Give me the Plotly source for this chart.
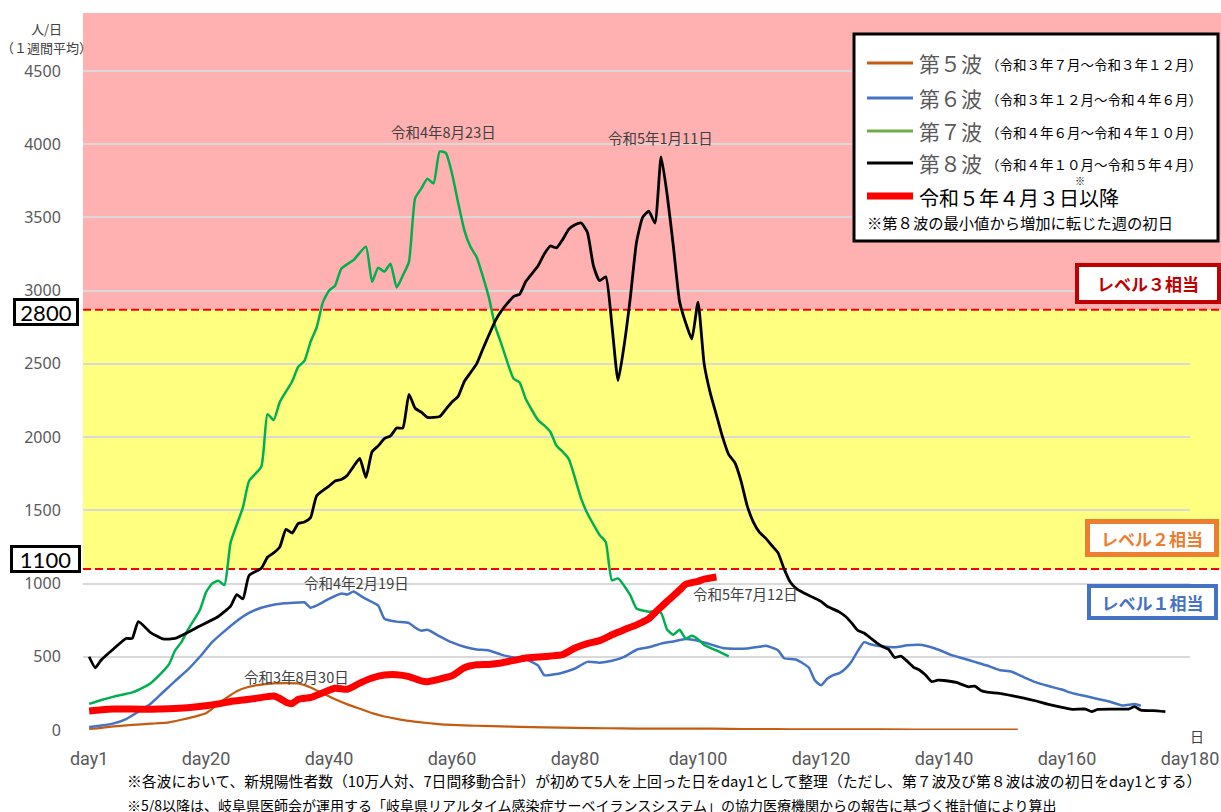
import plotly.graph_objects as go

# ---------------- data ----------------
days_w5 = [1,3,5,8,11,14,16,18,20,21,23,25,27,29,31,33,35,37,39,41,43,45,47,49,51,53,55,57,59,61,63,65,68,71,75,80,85,90,95,100,105,110,115,120,130,140,152]
vals_w5 = [8,15,25,35,43,52,70,90,115,145,210,265,295,310,318,320,318,290,250,210,175,145,115,92,76,62,52,44,37,33,30,28,25,22,18,14,12,10,9,10,8,6,5,4,4,3,3]

days_w6 = [1,3,5,7,9,11,13,15,17,19,21,23,25,27,29,31,33,35,36,37,38,40,42,43,44,45,46,48,49,51,53,54,55,56,58,60,62,64,66,68,70,72,74,75,77,79,80,82,84,86,88,90,92,94,96,98,100,102,104,106,108,110,111,113,114,116,118,119,120,121,122,123,124,125,126,127,128,130,132,134,136,137,139,141,143,145,147,149,151,153,155,157,159,161,163,165,167,169,171,172]
vals_w6 = [20,30,45,75,125,180,258,335,410,500,600,675,745,800,835,855,865,870,872,835,850,895,932,925,945,920,895,850,760,740,730,700,678,684,640,598,568,550,543,515,495,483,440,375,382,405,420,465,460,473,500,548,565,590,605,622,610,585,560,555,557,568,575,545,490,480,427,340,305,350,375,388,420,470,540,600,585,570,565,578,582,575,550,515,490,465,440,410,398,360,325,300,278,250,232,212,193,167,177,166]

days_w7 = [1,3,5,8,10,11,13,14,15,16,17,19,20,21,22,23,24,26,27,29,30,31,32,34,35,36,37,38,39,40,41,42,44,46,47,48,49,50,51,52,53,54,55,56,57,58,59,60,61,62,63,64,65,66,67,68,70,71,72,74,75,76,77,78,79,81,82,84,85,86,87,89,90,92,93,94,95,96,97,98,99,100,101,103,105]
vals_w7 = [178,205,228,257,295,320,400,450,545,600,680,820,940,1000,1020,990,1280,1520,1700,1800,2157,2116,2240,2380,2480,2520,2650,2750,2920,3000,3035,3150,3210,3300,3060,3157,3130,3184,3022,3103,3197,3630,3697,3765,3732,3950,3940,3800,3600,3414,3300,3230,3100,2954,2760,2640,2400,2373,2260,2116,2080,2035,1941,1900,1850,1580,1480,1332,1284,1022,1035,920,830,808,811,800,684,651,684,625,643,620,581,543,503]

days_w8 = [1,2,3,5,7,8,9,11,13,15,17,19,22,24,25,26,27,29,30,31,32,33,34,35,36,37,38,40,41,42,43,44,45,46,47,48,49,50,51,52,53,54,55,56,58,59,60,61,62,63,64,65,66,67,68,70,71,72,74,75,76,77,78,79,80,81,82,83,84,85,86,87,88,89,90,91,92,93,94,95,96,97,98,99,100,101,102,103,104,105,106,107,108,109,110,111,112,113,114,115,116,117,119,120,121,123,124,125,126,127,128,129,130,131,132,133,134,135,136,137,138,139,140,142,144,145,146,147,149,151,153,155,157,160,161,163,164,165,168,170,171,172,174,176]
vals_w8 = [500,425,480,555,625,625,740,665,622,625,665,710,775,846,925,895,1055,1105,1180,1210,1250,1370,1345,1410,1420,1450,1600,1665,1700,1711,1740,1800,1854,1724,1900,1940,1990,2008,2062,2062,2292,2197,2170,2135,2140,2190,2240,2278,2380,2440,2500,2600,2697,2790,2860,2960,2976,3062,3170,3251,3305,3292,3350,3420,3450,3462,3400,3170,3068,3095,2765,2386,2630,2954,3330,3500,3543,3462,3914,3650,3300,2927,2780,2670,2922,2500,2300,2150,2000,1880,1825,1700,1530,1420,1350,1310,1260,1211,1100,1010,965,940,900,878,845,805,775,730,680,662,630,597,570,550,495,505,470,430,410,375,330,341,338,325,295,300,270,258,250,235,218,198,175,148,141,143,125,141,143,143,159,136,132,125]

days_r = [1,3,5,8,11,14,17,20,22,24,26,28,30,31,32,33,34,35,37,39,41,43,45,47,49,51,53,55,56,58,60,62,64,66,68,70,72,74,76,78,80,82,84,86,88,90,92,93,95,97,98,100,101,103]
vals_r = [130,138,143,143,142,145,152,165,178,195,205,215,228,232,215,190,180,210,222,255,285,278,320,355,375,378,365,335,330,348,370,425,445,448,458,475,492,498,505,515,560,590,610,650,685,718,760,800,880,955,995,1015,1030,1045]

x_tick_vals = [1, 20, 40, 60, 80, 100, 120, 140, 160, 180]
x_tick_text = ["day1", "day20", "day40", "day60", "day80", "day100", "day120", "day140", "day160", "day180"]
y_tick_vals = [0, 500, 1000, 1500, 2000, 2500, 3000, 3500, 4000, 4500]

level2_line = 1100
level3_line = 2870

for a, b in [(days_w5, vals_w5), (days_w6, vals_w6), (days_w7, vals_w7), (days_w8, vals_w8), (days_r, vals_r)]:
    assert len(a) == len(b), (len(a), len(b))

# ---------------- layout helpers ----------------
W, H = 1221, 812
L, R, T, B = 83, 1190, 13, 730
Y_TOP = 4500 * (B - T) / (B - 71)

def px(x):
    return (x - L) / (R - L)

def py(y):
    return (B - y) / (B - T)

JP = "Noto Sans CJK JP"

fig = go.Figure()

def add_line(x, y, color, width, name):
    fig.add_trace(go.Scatter(x=x, y=y, mode="lines", name=name,
                             line=dict(color=color, width=width, shape="spline", smoothing=0.5),
                             hoverinfo="x+y"))

add_line(days_w5, vals_w5, "#C55A11", 2.2, "第5波")
add_line(days_w6, vals_w6, "#4472C4", 2.5, "第6波")
add_line(days_w7, vals_w7, "#00B050", 2.5, "第7波")
add_line(days_w8, vals_w8, "#000000", 2.8, "第8波")
add_line(days_r, vals_r, "#FF0000", 7, "令和5年4月3日以降")

shapes = []
# backgrounds
shapes.append(dict(type="rect", xref="paper", yref="paper", x0=0, x1=px(W), y0=level3_line / Y_TOP, y1=1,
                   fillcolor="#FFB1B1", line=dict(width=0), layer="below"))
shapes.append(dict(type="rect", xref="paper", yref="paper", x0=0, x1=px(W), y0=level2_line / Y_TOP, y1=level3_line / Y_TOP,
                   fillcolor="#FFFF80", line=dict(width=0), layer="below"))
# dashed level lines
for v in (level2_line, level3_line):
    shapes.append(dict(type="line", xref="paper", yref="paper", x0=0, x1=px(W), y0=v / Y_TOP, y1=v / Y_TOP,
                       line=dict(color="#FF0000", width=2, dash="8px,4px"), layer="between"))
# legend box
shapes.append(dict(type="rect", xref="paper", yref="paper", x0=px(854), x1=px(1218), y0=py(241), y1=py(34),
                   fillcolor="white", line=dict(color="black", width=3), layer="above"))
leg_rows = [(63, "#C55A11", 3), (98, "#4472C4", 3), (131, "#70AD47", 3), (163, "#000000", 3), (196, "#FF0000", 7)]
for yy, col, wd in leg_rows:
    shapes.append(dict(type="line", xref="paper", yref="paper", x0=px(867), x1=px(913), y0=py(yy), y1=py(yy),
                       line=dict(color=col, width=wd), layer="above"))

ann = []
def text(x, y, s, size, color="#404040", anchor="center", family=JP, **kw):
    ann.append(dict(x=px(x), y=py(y), xref="paper", yref="paper", text=s, showarrow=False,
                    xanchor=anchor, yanchor="middle", font=dict(size=size, color=color, family=family), **kw))

# legend texts
big = [("第５波", "（令和３年７月～令和３年１２月）", 63),
       ("第６波", "（令和３年１２月～令和４年６月）", 98),
       ("第７波", "（令和４年６月～令和４年１０月）", 131),
       ("第８波", "（令和４年１０月～令和５年４月）", 163)]
for b, s, yy in big:
    text(917, yy, b, 21, "#595959", anchor="left")
    text(984, yy + 1, s, 13.5, "#000000", anchor="left")
text(917, 198, "令和５年４月３日以降", 20, "#000000", anchor="left")
text(1080, 180, "※", 10, "#000000")
text(865, 222, "※第８波の最小値から増加に転じた週の初日", 15.3, "#000000", anchor="left")

# level boxes
def box(x, y, s, size, color, bcol, bw, w, h, family=JP, bold=False):
    ann.append(dict(x=px(x), y=py(y), xref="paper", yref="paper",
                    text=("<b>%s</b>" % s) if bold else s, showarrow=False,
                    xanchor="center", yanchor="middle", bgcolor="white", bordercolor=bcol,
                    borderwidth=bw, borderpad=0, width=w, height=h,
                    font=dict(size=size, color=color, family=family)))

box(1148, 283.5, "レベル３相当", 17, "#C00000", "#C00000", 4, 138, 33, bold=True)
box(1152, 538, "レベル２相当", 17, "#ED7D31", "#ED7D31", 5, 124, 28, bold=True)
box(1152.5, 602, "レベル１相当", 17, "#4472C4", "#4472C4", 4, 123, 28, bold=True)
box(46, 312, "2800", 22, "#000000", "#000000", 3, 60, 22, family="Lato")
box(45.5, 559, "1100", 22, "#000000", "#000000", 3, 65, 22, family="Lato")

# axis label texts
text(47, 28, "人/日", 13, "#404040")
text(47, 47, "（１週間平均）", 13, "#404040")
text(1197, 736, "日", 14, "#404040")

# date annotations
text(443, 131, "令和4年8月23日", 14.5)
text(660, 137, "令和5年1月11日", 14.5)
text(356, 582, "令和4年2月19日", 14.5)
text(745, 593, "令和5年7月12日", 14.5)
text(296, 676, "令和3年8月30日", 14.5)

# footnotes
text(125, 781, "※各波において、新規陽性者数（10万人対、7日間移動合計）が初めて5人を上回った日をday1として整理（ただし、第７波及び第８波は波の初日をday1とする）", 14.8, "#000000", anchor="left")
text(125, 805, "※5/8以降は、岐阜県医師会が運用する「岐阜県リアルタイム感染症サーベイランスシステム」の協力医療機関からの報告に基づく推計値により算出", 14, "#000000", anchor="left")

fig.update_layout(
    width=W, height=H, autosize=False,
    margin=dict(l=L, r=W - R, t=T, b=H - B, autoexpand=False),
    paper_bgcolor="white", plot_bgcolor="rgba(0,0,0,0)",
    showlegend=False,
    shapes=shapes, annotations=ann,
    xaxis=dict(range=[0, 180], tickvals=x_tick_vals, ticktext=x_tick_text, automargin=False,
               showgrid=False, zeroline=False, showline=False,
               ticks="outside", ticklen=12, tickcolor="rgba(0,0,0,0)",
               tickfont=dict(family="Liberation Sans Narrow, Roboto, sans-serif", size=18, color="#595959")),
    yaxis=dict(range=[0, Y_TOP], tickvals=y_tick_vals, automargin=False,
               showgrid=True, gridcolor="#D9D9D9", gridwidth=1.5,
               zeroline=False, showline=False,
               ticks="outside", ticklen=18, tickcolor="rgba(0,0,0,0)",
               tickfont=dict(family="Noto Sans", size=16, color="#595959")),
)

fig.write_html("out.html", config={"displayModeBar": False, "responsive": False},
               post_script="document.body.style.margin='0';document.body.style.overflow='hidden';")
